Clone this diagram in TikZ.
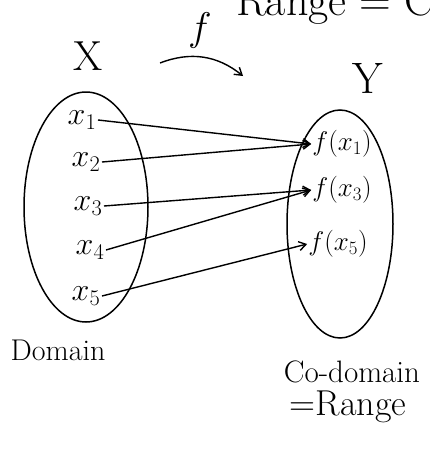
\RequirePackage{fix-cm}
\documentclass[tikz,border=0pt]{standalone}
\usetikzlibrary{arrows.meta,shapes.geometric}
\begin{document}
\begin{tikzpicture}[x=1pt,y=-1pt,line width=1.4pt,
  setline/.style={draw,ellipse,line width=1.5pt},
  elem/.style={inner sep=1pt,font=\fontsize{32}{34}\selectfont},
  img/.style={inner sep=0.5pt,font=\fontsize{27}{29}\selectfont},
  maps/.style={-{Straight Barb[length=7pt,width=9pt]}}]
\useasboundingbox (0,0) rectangle (429,450);
\clip (0,0) rectangle (429,450);

% the two sets
\node[setline,minimum width=124pt,minimum height=230pt] (dom) at (86,207) {};
\node[setline,minimum width=106pt,minimum height=228pt] (cod) at (340,224) {};

% names and the map
\node[font=\fontsize{44}{46}\selectfont,anchor=base west] (toptxt) at (232,15) {Range = Co-domain};
\node[font=\fontsize{42}{44}\selectfont] (X) at (88,56) {X};
\node[font=\fontsize{44}{46}\selectfont] (Y) at (368,78) {Y};
\node[font=\fontsize{40}{42}\selectfont] (f) at (200,30) {$f$};
\coordinate (fa) at (160,63);
\coordinate (fb) at (243,76);
\draw[maps] (fa) to[bend left=30] (fb);

% elements of X
\node[elem] (x1) at (82,120) {$x_1$};
\node[elem] (x2) at (86,162) {$x_2$};
\node[elem] (x3) at (88,206) {$x_3$};
\node[elem] (x4) at (90,250) {$x_4$};
\node[elem] (x5) at (86,296) {$x_5$};

% images in Y
\node[img] (fx1) at (342,144) {$f(x_1)$};
\node[img] (fx3) at (342,190) {$f(x_3)$};
\node[img] (fx5) at (338,244) {$f(x_5)$};

\draw[maps] (x1.east) -- (fx1.west);
\draw[maps] (x2.east) -- (fx1.west);
\draw[maps] (x3.east) -- (fx3.west);
\draw[maps] (x4.east) -- (fx3.west);
\draw[maps] (x5.east) -- (fx5.west);

\node[font=\fontsize{30}{32}\selectfont] (domlbl) at (58,350) {Domain};
\node[font=\fontsize{31}{33}\selectfont] (codlbl) at (352,372) {Co-domain};
\node[font=\fontsize{36}{38}\selectfont] (rnglbl) at (348,407) {=Range};
\end{tikzpicture}
\end{document}
